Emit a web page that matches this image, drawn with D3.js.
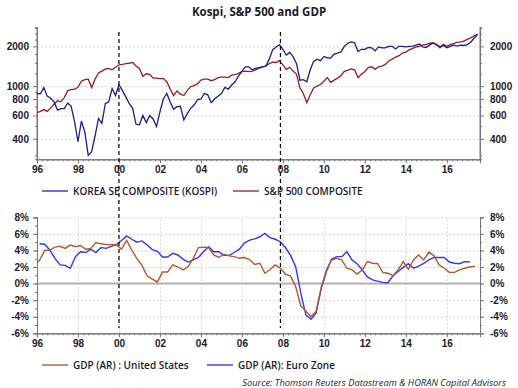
<!DOCTYPE html>
<html>
<head>
<meta charset="utf-8">
<script src="https://cdn.jsdelivr.net/npm/d3@7"></script>
<style>
  body { margin: 0; background: #fff; }
  svg { font-family: "Open Sans", sans-serif; }
  .tick text { font-weight: 700; font-size: 10px; fill: #1b1b2b; }
  .axis path, .axis line { stroke: #777; }
  .grid line { stroke: #d4d4d4; stroke-dasharray: 2,2; }
  .grid path { display: none; }
</style>
</head>
<body>
<svg id="chart" width="518" height="388"></svg>
<script>
// Stock indices, every two months from Jan 1996
const stockStart = 1996
const stockStep = 1 / 6
const kospi = [
  880, 875, 975, 840, 810, 760,      // 96
  660, 676, 676, 747, 705, 540,      // 97
  380, 545, 450, 300, 320, 420,      // 98
  571, 524, 737, 760, 960, 850,      // 99
  1024, 930, 830, 740, 680, 515,     // 00
  510, 600, 530, 600, 565, 495,      // 01
  640, 800, 880, 760, 670, 700,      // 02
  705, 555, 620, 680, 720, 790,      // 03
  800, 880, 860, 750, 800, 840,      // 04
  880, 980, 950, 1020, 1080, 1190,   // 05
  1300, 1400, 1400, 1330, 1360, 1380,// 06
  1400, 1420, 1600, 1880, 1980, 2060,// 07
  1900, 1720, 1800, 1670, 1480, 1110,// 08
  1120, 1080, 1330, 1540, 1600, 1560,// 09
  1670, 1640, 1630, 1750, 1780, 1815,// 10
  2000, 2110, 2160, 2130, 1830, 1900,// 11
  1900, 1960, 1950, 1850, 1980, 1950,// 12
  1950, 2000, 2000, 1910, 2000, 2000,// 13
  1980, 2000, 2010, 2040, 2080, 1980,// 14
  1960, 2050, 2120, 2050, 1990, 2030,// 15
  1950, 2000, 2040, 2010, 2040, 2030,// 16
  2060, 2150, 2300, 2450             // 17
]
const sp500 = [
  630, 645, 665, 645, 685, 730,
  775, 765, 820, 925, 940, 950,
  980, 1090, 1120, 1130, 975, 1130,
  1260, 1300, 1350, 1360, 1330, 1390,
  1450, 1460, 1480, 1490, 1510, 1420,
  1360, 1190, 1240, 1230, 1150, 1150,
  1140, 1140, 1080, 950, 850, 920,
  870, 850, 930, 990, 1010, 1040,
  1110, 1130, 1130, 1100, 1120, 1160,
  1170, 1170, 1160, 1210, 1220, 1250,
  1290, 1300, 1290, 1300, 1330, 1360,
  1400, 1420, 1480, 1520, 1510, 1560,
  1450, 1340, 1390, 1300, 1230, 970,
  880, 750, 858, 970, 1000, 1030,
  1090, 1160, 1070, 1110, 1150, 1200,
  1295, 1320, 1350, 1330, 1160, 1230,
  1290, 1380, 1400, 1340, 1400, 1420,
  1460, 1550, 1600, 1660, 1700, 1780,
  1810, 1880, 1930, 1980, 2000, 2050,
  2070, 2110, 2120, 2060, 1950, 2070,
  2000, 2060, 2100, 2140, 2160, 2190,
  2260, 2320, 2400, 2470
]

// GDP growth (%), quarterly, plotted mid-quarter from Q4 1995
const gdpStart = 1995.875
const gdpStep = 0.25
const gdpUS = [
  2.2,
  2.8, 4.0, 4.05, 4.4,
  4.5, 4.25, 4.65, 4.45,
  4.6, 4.15, 4.25, 4.95,
  4.8, 4.7, 4.7, 4.7,
  4.15, 5.2, 4.05, 3.0,
  2.2, 0.95, 0.55, 0.2,
  1.4, 1.4, 2.25, 2.0,
  1.65, 2.05, 3.05, 4.35,
  4.4, 4.35, 3.45, 3.15,
  3.55, 3.35, 3.25, 3.05,
  3.15, 2.9, 2.3, 2.45,
  1.25, 1.7, 2.25, 1.85,
  1.15, 0.9, -0.35, -2.7,
  -3.35, -4.0, -3.3, -0.4,
  1.65, 2.85, 3.05, 2.85,
  1.85, 1.65, 1.15, 1.65,
  2.65, 2.45, 2.4, 1.35,
  1.25, 0.95, 1.65, 2.65,
  1.75, 2.85, 3.45, 2.85,
  3.8, 3.35, 2.25, 1.85,
  1.35, 1.35, 1.65, 1.85,
  2.0, 2.1
]
const gdpEZ = [
  null,
  4.8, 4.75, 4.05, 3.05,
  2.25, 2.2, 1.85, 3.25,
  3.85, 3.75, 4.15, 3.75,
  4.35, 4.25, 4.5, 4.7,
  5.2, 5.75, 5.35, 5.0,
  5.15, 4.65, 4.1, 3.9,
  3.2, 3.2, 3.65, 3.45,
  2.95, 2.6, 2.85, 3.15,
  3.85, 4.45, 3.85, 3.85,
  3.4, 3.4, 3.75, 4.15,
  4.9, 5.25, 5.4, 5.65,
  6.05, 5.55, 5.35, 5.05,
  4.35, 3.4, 2.05, -1.15,
  -3.8, -4.3, -3.55, -0.55,
  1.45, 2.95, 3.25, 3.25,
  3.85, 2.85, 2.4, 1.65,
  0.8, 0.45, 0.3, 0.15,
  0.1, 0.95, 1.45, 1.95,
  2.4, 1.85, 2.1, 2.45,
  2.85, 3.15, 3.15, 3.15,
  2.6, 2.45, 2.4, 2.65,
  2.6
]

const yearTicks = [1996, 1998, 2000, 2002, 2004, 2006, 2008, 2010, 2012, 2014, 2016]
const stockTicks = [400, 600, 800, 1000, 2000]
const stockMinor = [300, 500, 700, 900, 1250, 1500, 1750, 2250, 2500, 2750]
const gdpTicks = [-6, -4, -2, 0, 2, 4, 6, 8]
const eventDates = [2000.0, 2007.88]

const colors = {
  kospi: '#1c1c8c',
  sp500: '#981e22',
  us: '#b5582c',
  ez: '#3535f5',
  text: '#1b1b2b'
}

const svg = d3.select('#chart')
const left = 37
const right = 480

let x = d3.scaleLinear()
    .domain([1996, 2017.62])
    .range([left, right])

let yTop = d3.scaleLog()
    .domain([280, 2800])
    .range([159.3, 27])

let yBot = d3.scaleLinear()
    .domain([-6, 8])
    .range([333.3, 217.3])

// Clip areas
let defs = svg.append('defs')
defs.append('clipPath').attr('id', 'clip-top')
  .append('rect').attr('x', left).attr('y', 20).attr('width', right - left).attr('height', 140)
defs.append('clipPath').attr('id', 'clip-bot')
  .append('rect').attr('x', left).attr('y', 210).attr('width', right - left).attr('height', 124)

// Title
svg.append('text')
  .attr('x', 259)
  .attr('y', 16)
  .attr('text-anchor', 'middle')
  .style('font-size', '11.5px')
  .style('font-weight', 700)
  .style('fill', colors.text)
  .text('Kospi, S&P 500 and GDP')

const quarterTicks = d3.range(1996, 2017.6, 0.25)
const fmtYear = d => String(d).slice(2)

// ---- Top panel ----
svg.append('g')
  .attr('class', 'grid')
  .attr('transform', 'translate(' + left + ',0)')
  .call(d3.axisLeft(yTop).tickValues(stockTicks).tickSize(-(right - left)).tickFormat(''))

svg.append('g')
  .attr('class', 'axis')
  .attr('transform', 'translate(' + left + ',0)')
  .call(d3.axisLeft(yTop).tickValues(stockMinor).tickSize(2).tickFormat(''))
svg.append('g')
  .attr('class', 'axis')
  .attr('transform', 'translate(' + right + ',0)')
  .call(d3.axisRight(yTop).tickValues(stockMinor).tickSize(2).tickFormat(''))

svg.append('g')
  .attr('class', 'axis')
  .attr('transform', 'translate(' + left + ',0)')
  .call(d3.axisLeft(yTop).tickValues(stockTicks).tickSize(4).tickPadding(4).tickFormat(d3.format('d')))
  .call(g => g.select('.domain').attr('d', 'M0,' + 27 + 'V159.3'))

svg.append('g')
  .attr('class', 'axis')
  .attr('transform', 'translate(' + right + ',0)')
  .call(d3.axisRight(yTop).tickValues(stockTicks).tickSize(4).tickPadding(6).tickFormat(d3.format('d')))
  .call(g => g.select('.domain').attr('d', 'M0,' + 27 + 'V159.3'))

svg.append('g')
  .attr('class', 'axis')
  .attr('transform', 'translate(0,159.3)')
  .call(d3.axisBottom(x).tickValues(quarterTicks).tickSize(2).tickFormat(''))
svg.append('g')
  .attr('class', 'axis')
  .attr('transform', 'translate(0,159.3)')
  .call(d3.axisBottom(x).tickValues(yearTicks).tickSize(4).tickPadding(3).tickFormat(fmtYear))

let stockLine = d3.line()
    .x((d, i) => x(stockStart + i * stockStep))
    .y(d => yTop(d))

let topLines = svg.append('g').attr('clip-path', 'url(#clip-top)')
topLines.append('path')
  .datum(sp500)
  .attr('d', stockLine)
  .attr('fill', 'none')
  .attr('stroke', colors.sp500)
  .attr('stroke-width', 1.3)
topLines.append('path')
  .datum(kospi)
  .attr('d', stockLine)
  .attr('fill', 'none')
  .attr('stroke', colors.kospi)
  .attr('stroke-width', 1.3)

// Top legend
const topLegend = [
  { label: 'KOREA SE COMPOSITE (KOSPI)', color: '#2626b4', x: 42 },
  { label: 'S&P 500 COMPOSITE', color: colors.sp500, x: 233 }
]
topLegend.forEach(d => {
  svg.append('line')
    .attr('x1', d.x).attr('x2', d.x + 26)
    .attr('y1', 191).attr('y2', 191)
    .attr('stroke', d.color).attr('stroke-width', 1.3)
  svg.append('text')
    .attr('x', d.x + 31).attr('y', 194.5)
    .style('font-size', '10px')
    .style('font-weight', 600)
    .style('fill', colors.text)
    .text(d.label)
})

// ---- Bottom panel ----
svg.append('g')
  .attr('class', 'grid')
  .attr('transform', 'translate(' + left + ',0)')
  .call(d3.axisLeft(yBot).tickValues(gdpTicks).tickSize(-(right - left)).tickFormat(''))
svg.append('g')
  .attr('class', 'grid')
  .attr('transform', 'translate(0,333.3)')
  .call(d3.axisBottom(x).tickValues(yearTicks.slice(1)).tickSize(-116).tickFormat(''))

svg.append('line')
  .attr('x1', left).attr('x2', right)
  .attr('y1', yBot(0)).attr('y2', yBot(0))
  .attr('stroke', '#b4b4b4').attr('stroke-width', 2)

const pctMinor = d3.range(-6, 8.1, 1)
svg.append('g')
  .attr('class', 'axis')
  .attr('transform', 'translate(' + left + ',0)')
  .call(d3.axisLeft(yBot).tickValues(pctMinor).tickSize(2).tickFormat(''))
svg.append('g')
  .attr('class', 'axis')
  .attr('transform', 'translate(' + right + ',0)')
  .call(d3.axisRight(yBot).tickValues(pctMinor).tickSize(2).tickFormat(''))

svg.append('g')
  .attr('class', 'axis')
  .attr('transform', 'translate(' + left + ',0)')
  .call(d3.axisLeft(yBot).tickValues(gdpTicks).tickSize(4).tickPadding(4).tickFormat(d => d + '%'))
svg.append('g')
  .attr('class', 'axis')
  .attr('transform', 'translate(' + right + ',0)')
  .call(d3.axisRight(yBot).tickValues(gdpTicks).tickSize(4).tickPadding(6).tickFormat(d => d + '%'))

svg.append('g')
  .attr('class', 'axis')
  .attr('transform', 'translate(0,333.3)')
  .call(d3.axisBottom(x).tickValues(quarterTicks).tickSize(2).tickFormat(''))
svg.append('g')
  .attr('class', 'axis')
  .attr('transform', 'translate(0,333.3)')
  .call(d3.axisBottom(x).tickValues(yearTicks).tickSize(4).tickPadding(3).tickFormat(fmtYear))

let gdpLine = d3.line()
    .defined(d => d !== null)
    .x((d, i) => x(gdpStart + i * gdpStep))
    .y(d => yBot(d))

let botLines = svg.append('g').attr('clip-path', 'url(#clip-bot)')
botLines.append('path')
  .datum(gdpEZ)
  .attr('d', gdpLine)
  .attr('fill', 'none')
  .attr('stroke', colors.ez)
  .attr('stroke-width', 1.4)
botLines.append('path')
  .datum(gdpUS)
  .attr('d', gdpLine)
  .attr('fill', 'none')
  .attr('stroke', colors.us)
  .attr('stroke-width', 1.4)

// Bottom legend
const botLegend = [
  { label: 'GDP (AR) : United States', color: colors.us, x: 42 },
  { label: 'GDP (AR): Euro Zone', color: colors.ez, x: 207 }
]
botLegend.forEach(d => {
  svg.append('line')
    .attr('x1', d.x).attr('x2', d.x + 26)
    .attr('y1', 365).attr('y2', 365)
    .attr('stroke', d.color).attr('stroke-width', 1.4)
  svg.append('text')
    .attr('x', d.x + 31).attr('y', 368.5)
    .style('font-size', '10px')
    .style('font-weight', 600)
    .style('fill', colors.text)
    .text(d.label)
})

// Source
svg.append('text')
  .attr('x', 506).attr('y', 386)
  .attr('text-anchor', 'end')
  .style('font-size', '9.3px')
  .style('font-style', 'italic')
  .style('fill', colors.text)
  .text('Source: Thomson Reuters Datastream & HORAN Capital Advisors')

// Event markers spanning both panels
svg.selectAll('.event')
  .data(eventDates)
  .enter().append('line')
  .attr('class', 'event')
  .attr('x1', d => x(d)).attr('x2', d => x(d))
  .attr('y1', 32).attr('y2', 328)
  .attr('stroke', '#000')
  .attr('stroke-width', 1.2)
  .attr('stroke-dasharray', '4,3')
</script>
</body>
</html>
